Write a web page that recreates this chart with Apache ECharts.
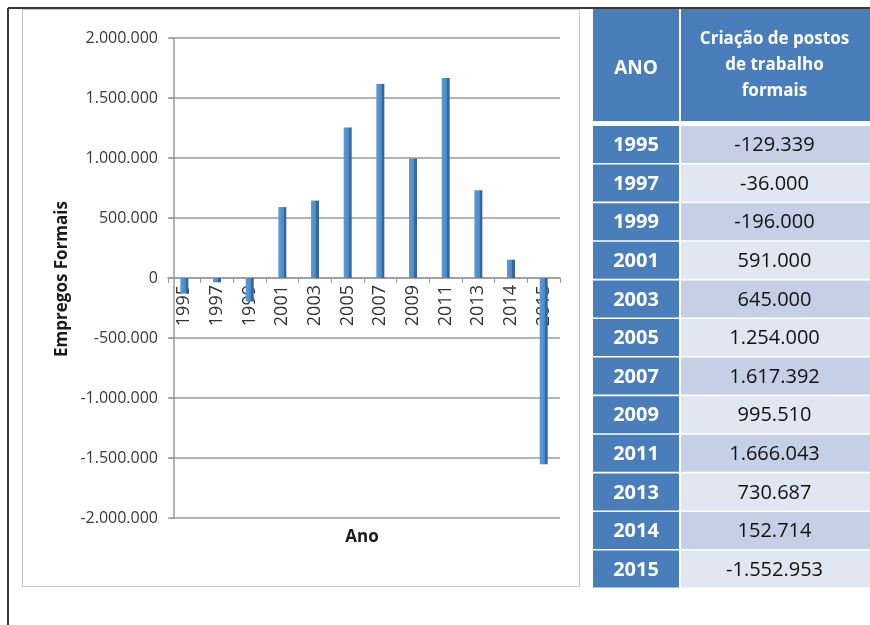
<!DOCTYPE html>
<html>
<head>
<meta charset="utf-8">
<script src="https://cdn.jsdelivr.net/npm/echarts@6/dist/echarts.min.js"></script>
<style>
html,body{margin:0;padding:0;background:#fff;}
#chart{width:870px;height:625px;}
</style>
</head>
<body>
<div id="chart"></div>
<script>
// ---- data ----
const years = ['1995','1997','1999','2001','2003','2005','2007','2009','2011','2013','2014','2015'];
const jobs = [-129339, -36000, -196000, 591000, 645000, 1254000, 1617392, 995510, 1666043, 730687, 152714, -1552953];
const yAxisTitle = 'Empregos Formais';
const xAxisTitle = 'Ano';
const tableHeadYear = 'ANO';
const tableHeadValue = 'Criação de postos\nde trabalho\nformais';

function fmt(v) {
  const s = String(Math.abs(v)).replace(/\B(?=(\d{3})+(?!\d))/g, '.');
  return (v < 0 ? '-' : '') + s;
}

const chart = echarts.init(document.getElementById('chart'), null, {renderer: 'canvas'});

// ---- table + frame graphics ----
const FONT = '"Open Sans", "Noto Sans", sans-serif';
const graphics = [];
// outer frame lines
graphics.push({type: 'line', shape: {x1: 8, y1: 8, x2: 870, y2: 8}, style: {stroke: '#3a3a3a', lineWidth: 2}, z: 10});
graphics.push({type: 'line', shape: {x1: 8, y1: 8, x2: 8, y2: 625}, style: {stroke: '#3a3a3a', lineWidth: 2}, z: 10});
// chart box
graphics.push({type: 'rect', shape: {x: 22.5, y: 9.5, width: 557, height: 577}, style: {fill: 'none', stroke: '#c4c4c4', lineWidth: 1}, z: -1});
// axis titles
graphics.push({type: 'text', x: 62, y: 279, rotation: Math.PI / 2,
  style: {text: yAxisTitle, x: 0, y: 0, align: 'center', verticalAlign: 'middle', textAlign: 'center', textVerticalAlign: 'middle',
    font: 'bold 17px ' + FONT, fill: '#1a1a1a'}});
graphics.push({type: 'text', style: {text: xAxisTitle, x: 362, y: 537, align: 'center', verticalAlign: 'middle', textAlign: 'center', textVerticalAlign: 'middle',
    font: 'bold 17px ' + FONT, fill: '#1a1a1a'}});

// table
const colA = {x: 593, w: 86};
const colB = {x: 681, w: 189};
const headTop = 9, headH = 112;
const rowTop = 126, rowStep = 38.6, rowH = 37;
const headBlue = '#4a7ebb';
graphics.push({type: 'rect', shape: {x: colA.x, y: headTop, width: colA.w, height: headH}, style: {fill: headBlue}});
graphics.push({type: 'rect', shape: {x: colB.x, y: headTop, width: colB.w, height: headH}, style: {fill: headBlue}});
graphics.push({type: 'text', style: {text: tableHeadYear, x: colA.x + colA.w / 2, y: 69, align: 'center', verticalAlign: 'middle', textAlign: 'center', textVerticalAlign: 'middle',
  font: 'bold 19px ' + FONT, fill: '#ffffff'}});
graphics.push({type: 'text', style: {text: tableHeadValue, x: colB.x + colB.w / 2 - 1, y: 65, align: 'center', verticalAlign: 'middle', textAlign: 'center', textVerticalAlign: 'middle',
  font: 'bold 17px ' + FONT, fill: '#ffffff', lineHeight: 26}});
years.forEach(function (yr, i) {
  const y = rowTop + i * rowStep;
  graphics.push({type: 'rect', shape: {x: colA.x, y: y, width: colA.w, height: rowH}, style: {fill: headBlue}});
  graphics.push({type: 'rect', shape: {x: colB.x, y: y, width: colB.w, height: rowH}, style: {fill: i % 2 === 0 ? '#c5d0e6' : '#e0e7f2'}});
  graphics.push({type: 'text', style: {text: yr, x: colA.x + colA.w / 2, y: y + rowH / 2 + 1, align: 'center', verticalAlign: 'middle', textAlign: 'center', textVerticalAlign: 'middle',
    font: 'bold 20px ' + FONT, fill: '#ffffff'}});
  graphics.push({type: 'text', style: {text: fmt(jobs[i]), x: colB.x + colB.w / 2 - 1, y: y + rowH / 2 + 1, align: 'center', verticalAlign: 'middle', textAlign: 'center', textVerticalAlign: 'middle',
    font: '20px ' + FONT, fill: '#111111'}});
});

const option = {
  backgroundColor: '#ffffff',
  animation: false,
  grid: {left: 168, right: 310, top: 38, bottom: 107, containLabel: false},
  xAxis: {
    type: 'category',
    data: years,
    offset: -240,
    z: 0,
    axisLine: {onZero: false, lineStyle: {color: '#9a9a9a', width: 1.5}},
    axisTick: {show: true, alignWithLabel: false, length: 5, lineStyle: {color: '#9a9a9a'}},
    axisLabel: {rotate: 90, margin: 7, fontSize: 18, fontFamily: FONT, color: '#333333'},
    splitLine: {show: false}
  },
  yAxis: {
    type: 'value',
    min: -2000000,
    max: 2000000,
    interval: 500000,
    offset: -6,
    axisLine: {show: true, lineStyle: {color: '#9a9a9a', width: 1.5}},
    axisTick: {show: true, length: 4, lineStyle: {color: '#9a9a9a'}},
    axisLabel: {margin: 16, fontSize: 16, fontFamily: FONT, color: '#3a3a3a', formatter: function (v) { return fmt(v); }},
    splitLine: {show: true, lineStyle: {color: '#9a9a9a', width: 1.5}}
  },
  series: [{
    type: 'bar',
    data: jobs,
    barWidth: 8,
    zlevel: 1,
    itemStyle: {
      color: new echarts.graphic.LinearGradient(0, 0, 1, 0, [
        {offset: 0, color: '#5d9cd8'},
        {offset: 0.65, color: '#4a89c8'},
        {offset: 0.66, color: '#3a6aa2'},
        {offset: 1, color: '#33609a'}
      ])
    }
  }],
  graphic: graphics
};
chart.setOption(option);
</script>
</body>
</html>
